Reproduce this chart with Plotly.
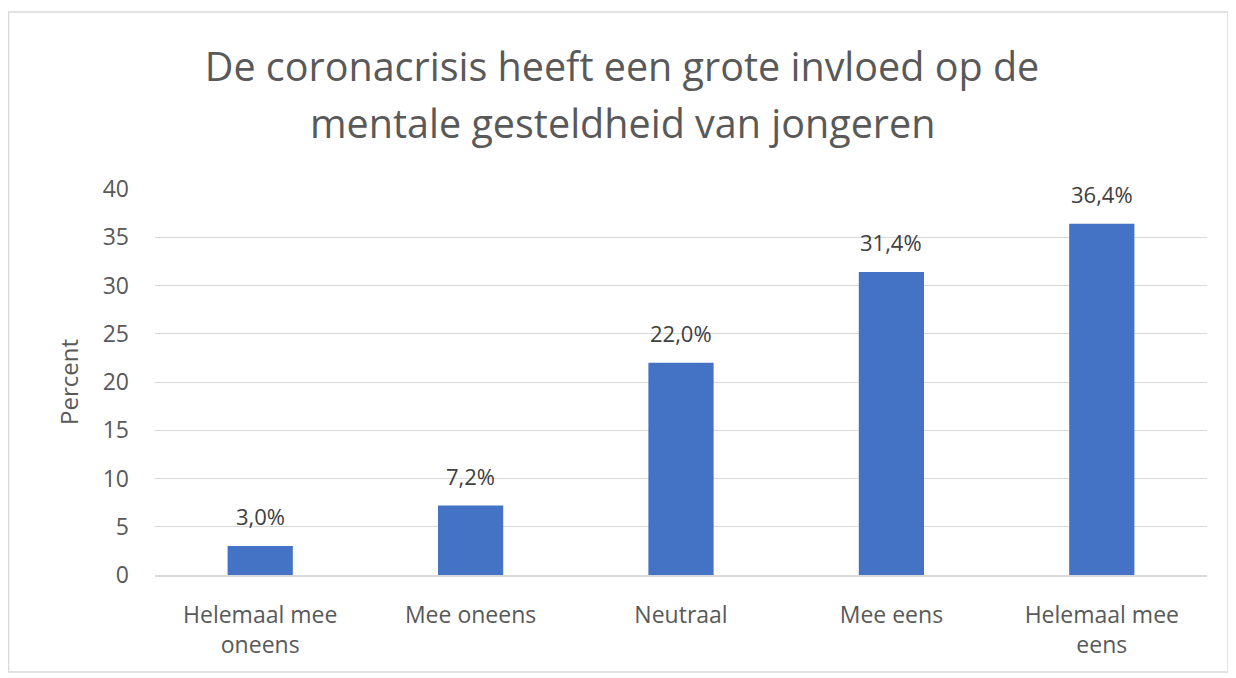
import plotly.graph_objects as go

categories = ["Helemaal mee<br>oneens", "Mee oneens", "Neutraal", "Mee eens", "Helemaal mee<br>eens"]
percent = [3.0, 7.2, 22.0, 31.4, 36.4]
labels = ["3,0%", "7,2%", "22,0%", "31,4%", "36,4%"]
y_ticks = [0, 5, 10, 15, 20, 25, 30, 35, 40]
title_lines = ["De coronacrisis heeft een grote invloed op de", "mentale gesteldheid van jongeren"]

# the page places the figure 8px in from the top-left corner
W, H = 1228, 670
L, R, T, B = 147, 29, 181, 103
pw, ph = W - L - R, H - T - B

FONT = "Open Sans"
GREY = "#595959"

fig = go.Figure()
fig.add_trace(go.Bar(x=categories, y=percent, marker_color="#4472C4",
                     marker_line_width=0, hoverinfo="skip"))

for c, v, t in zip(categories, percent, labels):
    fig.add_annotation(x=c, y=v, text=t, showarrow=False, yanchor="middle", yshift=30,
                       font=dict(family=FONT, size=22, color="#404040"))

# second title line
fig.add_annotation(xref="paper", yref="paper", x=(W / 2 - L) / pw, y=(H - B - 115) / ph,
                   text=title_lines[1], showarrow=False, xanchor="center", yanchor="middle",
                   font=dict(family=FONT, size=39.5, color=GREY))

# chart border
fig.add_shape(type="rect", xref="paper", yref="paper",
              x0=(0.5 - L) / pw, x1=(1220 - L) / pw,
              y0=(H - B - 664) / ph, y1=(H - B - 4) / ph,
              line=dict(color="#d9d9d9", width=1.5), fillcolor="rgba(0,0,0,0)", layer="below")

fig.update_layout(
    width=W, height=H,
    margin=dict(l=L, r=R, t=T, b=B),
    paper_bgcolor="white", plot_bgcolor="white",
    bargap=0.69,
    showlegend=False,
    title=dict(text=title_lines[0], x=0.5, xanchor="center", xref="container",
               yref="container", y=1 - 59 / H, yanchor="middle",
               font=dict(family=FONT, size=39.5, color=GREY)),
    font=dict(family=FONT, color=GREY),
)
fig.update_yaxes(range=[0, 40], tickvals=y_ticks, showgrid=True, gridcolor="#d9d9d9", gridwidth=1,
                 zeroline=False, showline=False, ticks="", ticklabelstandoff=25,
                 tickfont=dict(family=FONT, size=23, color=GREY),
                 title=dict(text="Percent", font=dict(family=FONT, size=24, color=GREY), standoff=17))
fig.update_xaxes(showline=True, linecolor="#d9d9d9", linewidth=1.5, ticks="", ticklabelstandoff=19,
                 tickfont=dict(family=FONT, size=23, color=GREY))

fig.write_html("out.html")
